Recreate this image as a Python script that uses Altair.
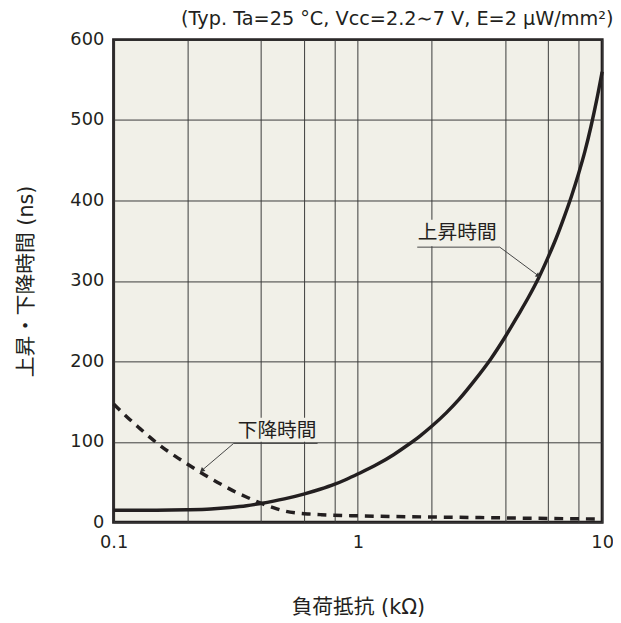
import math
import altair as alt
import pandas as pd

# ---------------- data ----------------
rise_x = [0.1, 0.15, 0.2, 0.25, 0.3, 0.35, 0.4, 0.5, 0.6, 0.7, 0.8, 0.9, 1.0,
          1.2, 1.4, 1.6, 1.8, 2.0, 2.3, 2.6, 3.0, 3.5, 4.0, 4.5, 5.0, 5.5,
          6.0, 6.5, 7.0, 7.5, 8.0, 8.5, 9.0, 9.5, 10.0]
rise_y = [15, 15, 15.5, 16.5, 18.3, 20.5, 23.3, 29, 35, 41, 47, 53.5, 60,
          72, 84, 96, 107.5, 119, 136, 153, 176, 203, 230, 256, 280, 304,
          329, 354, 380, 406, 433, 461, 492, 525, 560]

fall_x = [0.1, 0.112, 0.126, 0.141, 0.158, 0.178, 0.2, 0.224, 0.251, 0.282,
          0.316, 0.355, 0.398, 0.447, 0.501, 0.562, 0.631, 0.708, 0.794, 1.0,
          2.0, 3.16, 5.0, 10.0]
fall_y = [147, 132.5, 118.5, 105.5, 93.5, 82.5, 72.5, 63, 54, 45.5,
          37.5, 30.5, 24, 18.5, 14, 11.5, 10.2, 9.4, 8.8, 8,
          6.5, 5.8, 5, 4]

x_grid_values = [0.1, 0.2, 0.4, 0.6, 0.8, 1, 2, 4, 6, 8, 10]
x_label_values = [0.1, 1, 10]
y_values = [0, 100, 200, 300, 400, 500, 600]

title_text = "(Typ. Ta=25 °C, Vᴄᴄ=2.2∼7 V, E=2 μW/mm²)"
x_title = "負荷抵抗 (kΩ)"
y_title = "上昇・下降時間 (ns)"

# annotations (data units)
ann_labels = ["上昇時間", "下降時間"]
ann_text_x = [2.55, 0.467]
ann_text_y = [359, 113]
ann_box_x = [1.69, 0.31]
ann_box_x2 = [3.89, 0.69]
ann_box_y = [343, 100]
ann_box_y2 = [376, 130]
ann_under_x = [1.75, 0.31]
ann_under_x2 = [3.81, 0.684]
ann_under_y = [342, 98]
ann_tip_x = [5.45, 0.231]
ann_tip_y = [307, 65]

# ---------------- styling ----------------
INK = "#231f20"
BG = "#f1f0e8"
W, H = 495, 489
LEFT, TOP = 107, 28


def px(xv, yv):
    return (W * math.log10(xv / 0.1) / 2.0, H - H * yv / 600.0)


def head_angle(i):
    x0, y0 = px(ann_under_x2[i] if i == 0 else ann_under_x[i], ann_under_y[i])
    x1, y1 = px(ann_tip_x[i], ann_tip_y[i])
    a = math.degrees(math.atan2(x1 - x0, -(y1 - y0)))
    return a % 360


curves = pd.concat([
    pd.DataFrame({"x": rise_x, "y": rise_y, "s": "rise"}),
    pd.DataFrame({"x": fall_x, "y": fall_y, "s": "fall"}),
])

xscale = alt.Scale(type="log", domain=[0.1, 10], nice=False)
yscale = alt.Scale(domain=[0, 600], nice=False, zero=True)

label_expr = "(" + " || ".join("abs(datum.value - %s) < 1e-9" % v for v in x_label_values) + ") ? datum.label : ''"

xaxis = alt.Axis(values=x_grid_values, labelExpr=label_expr, format="~g", grid=True,
                 ticks=False, domain=False, title=x_title, labelPadding=12,
                 labelFlush=False, titleY=86, titleBaseline="middle")
yaxis = alt.Axis(values=y_values, grid=True, ticks=False, domain=False, title=y_title,
                 labelPadding=10, labelFlush=False, titleX=-88, titleBaseline="middle")

base = alt.Chart(curves)

rise_line = base.transform_filter(alt.datum.s == "rise").mark_line(
    color=INK, strokeWidth=3.5, interpolate="monotone"
).encode(
    x=alt.X("x:Q", scale=xscale, axis=xaxis),
    y=alt.Y("y:Q", scale=yscale, axis=yaxis),
)

fall_line = base.transform_filter(alt.datum.s == "fall").mark_line(
    color=INK, strokeWidth=3.5, strokeDash=[9, 7], interpolate="monotone"
).encode(x="x:Q", y="y:Q")

ann = pd.DataFrame({
    "label": ann_labels, "tx": ann_text_x, "ty": ann_text_y,
    "bx": ann_box_x, "bx2": ann_box_x2, "by": ann_box_y, "by2": ann_box_y2,
    "ux": ann_under_x, "ux2": ann_under_x2, "uy": ann_under_y,
    "tipx": ann_tip_x, "tipy": ann_tip_y,
})
ann["lx"] = [ann_under_x2[0], ann_under_x[1]]
ann["ly"] = ann_under_y

abase = alt.Chart(ann)
boxes = abase.mark_rect(fill=BG).encode(
    x="bx:Q", x2="bx2:Q", y="by:Q", y2="by2:Q")
underlines = abase.mark_rule(color="#444444", strokeWidth=1).encode(
    x="ux:Q", x2="ux2:Q", y="uy:Q")
leaders = abase.mark_rule(color="#444444", strokeWidth=1).encode(
    x="lx:Q", x2="tipx:Q", y="ly:Q", y2="tipy:Q")
texts = abase.mark_text(font="Noto Sans CJK JP", fontSize=20, color=INK,
                        baseline="middle", align="center").encode(
    x="tx:Q", y="ty:Q", text="label:N")

heads = []
for i in range(len(ann_labels)):
    heads.append(
        alt.Chart(ann.iloc[[i]]).mark_point(shape="triangle", filled=True, color="#333333",
                                            size=30, opacity=1, angle=head_angle(i))
        .encode(x="tipx:Q", y="tipy:Q")
    )

chart = alt.layer(rise_line, fall_line, boxes, underlines, leaders, texts, *heads).properties(
    width=W, height=H,
    background="white",
    title=alt.TitleParams(title_text, anchor="end", fontSize=19.5, font="DejaVu Sans",
                          fontWeight="normal", color=INK, offset=6, dy=5),
    autosize=alt.AutoSizeParams(type="none"),
    padding={"left": LEFT, "top": TOP, "right": 11, "bottom": 95},
).configure_view(
    fill=BG, stroke=INK, strokeWidth=3
).configure_axis(
    gridColor="#3a3a3a", gridWidth=1, gridOpacity=1,
    labelFont="DejaVu Sans", labelFontSize=18, labelColor=INK,
    titleFont="DejaVu Sans, Noto Sans CJK JP", titleFontSize=21, titleColor=INK,
    titleFontWeight="normal",
)

chart.save("out.html", embed_options={"renderer": "svg", "actions": False})
